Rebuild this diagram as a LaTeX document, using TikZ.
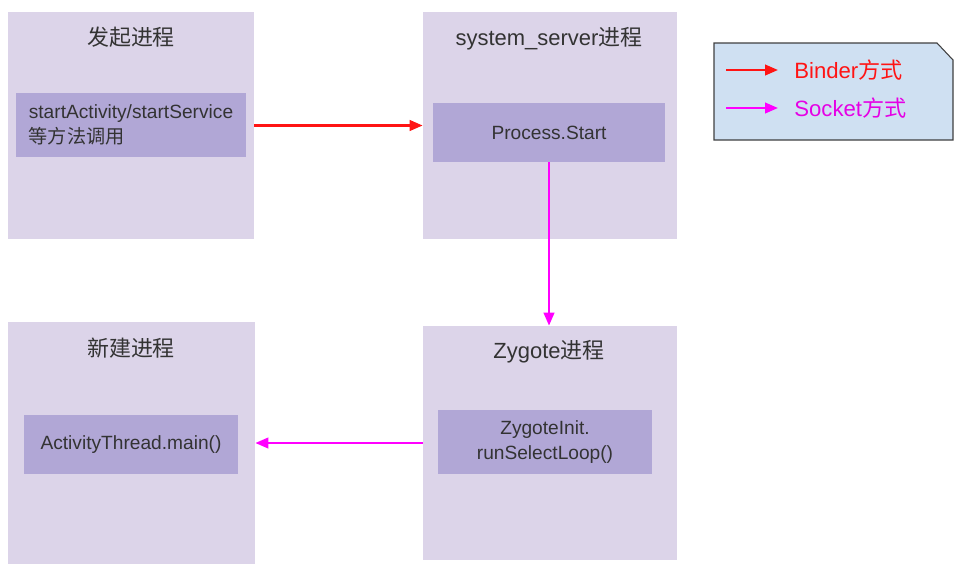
\documentclass[tikz,border=0pt]{standalone}
\usepackage{fontspec}
\setmainfont{Liberation Sans}
\newfontfamily\cjk{Noto Sans CJK SC}
\usetikzlibrary{arrows.meta}
\definecolor{procbg}{RGB}{220,212,233}
\definecolor{callbg}{RGB}{177,167,214}
\definecolor{legendbg}{RGB}{207,224,242}
\definecolor{textgray}{RGB}{51,51,51}
\definecolor{binderred}{RGB}{255,20,20}
\definecolor{socketpink}{RGB}{255,0,255}

\begin{document}
\begin{tikzpicture}[x=0.02cm, y=-0.02cm,
  proc/.style={fill=procbg, inner sep=0pt},
  call/.style={fill=callbg, inner sep=0pt, text=textgray, align=center,
    font=\fontsize{10.9}{14}\selectfont},
  title/.style={text=textgray, font=\fontsize{12.5}{15}\selectfont},
  binder/.style={draw=binderred, line width=1.4pt, -{Triangle[length=0.26cm,width=0.21cm]}},
  socket/.style={draw=socketpink, line width=1.4pt, -{Triangle[length=0.26cm,width=0.21cm]}},
]
\useasboundingbox (0,0) rectangle (972,585);

% processes
\node[proc, minimum width=4.92cm, minimum height=4.54cm] (caller) at (131,125.5) {};
\node[proc, minimum width=5.08cm, minimum height=4.54cm] (server) at (550,125.5) {};
\node[proc, minimum width=4.94cm, minimum height=4.84cm] (child) at (131.5,443) {};
\node[proc, minimum width=5.08cm, minimum height=4.68cm] (zygote) at (550,443) {};

\node[title] (callertitle) at (131,37) {\cjk 发起进程};
\node[title] (servertitle) at (549,39) {system\_server{\cjk 进程}};
\node[title] (childtitle) at (131,348) {\cjk 新建进程};
\node[title] (zygotetitle) at (549,352) {Zygote{\cjk 进程}};

% calls
\node[call, align=left, minimum width=4.62cm, minimum height=1.28cm] (startcall) at (131,125)
  {startActivity/startService\\{\cjk 等方法调用}};
\node[call, minimum width=4.64cm, minimum height=1.18cm] (procstart) at (549,132.5) {Process.Start};
\node[call, minimum width=4.28cm, minimum height=1.18cm] (atmain) at (131,444.5) {ActivityThread.main()};
\node[call, minimum width=4.28cm, minimum height=1.28cm] (loop) at (545,442)
  {ZygoteInit.\\runSelectLoop()};

\draw[binder] (caller.east) -- (server.west);
\draw[socket] (procstart.south) -- (procstart.south |- zygote.north);
\draw[socket] (zygote.west) -- (child.east);

% legend
\draw[fill=legendbg, draw=black!75, line width=0.6pt]
  (714,43) -- (937,43) -- (953,60) -- (953,140) -- (714,140) -- cycle;
\coordinate (b1) at (726,70);
\coordinate (b2) at (778,70);
\coordinate (s1) at (726,108);
\coordinate (s2) at (778,108);
\draw[binder] (b1) -- (b2);
\draw[socket] (s1) -- (s2);
\node[anchor=west, text=binderred, font=\fontsize{12.6}{15}\selectfont, inner sep=0pt] (bindertxt) at (794,70)
  {Binder{\cjk 方式}};
\node[anchor=west, text=socketpink!90!black, font=\fontsize{12.6}{15}\selectfont, inner sep=0pt] (sockettxt) at (794,108)
  {Socket{\cjk 方式}};

\end{tikzpicture}
\end{document}
